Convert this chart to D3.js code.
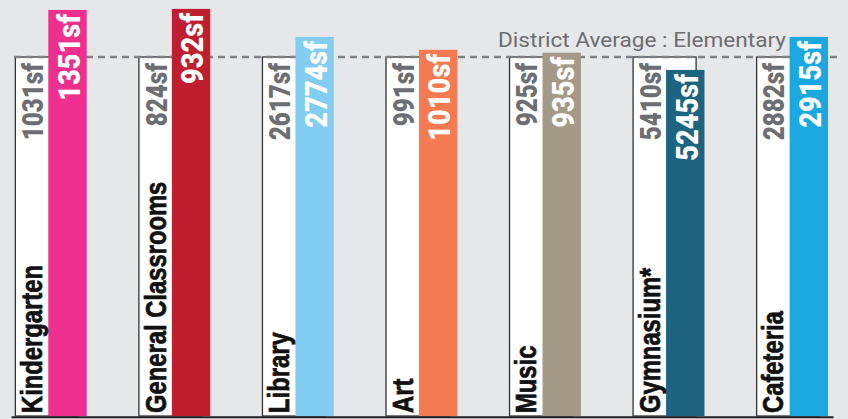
<!DOCTYPE html>
<html>
<head>
<meta charset="utf-8">
<script src="https://cdn.jsdelivr.net/npm/d3@7"></script>
<style>
  html, body { margin: 0; padding: 0; background: #e6e7e8; }
  svg { display: block; }
</style>
</head>
<body>
<script>
// ---- data ----
const categories = ["Kindergarten", "General Classrooms", "Library", "Art", "Music", "Gymnasium*", "Cafeteria"];
const districtSf = [1031, 824, 2617, 991, 925, 5410, 2882];
const schoolSf = [1351, 932, 2774, 1010, 935, 5245, 2915];
// school bar height as % of district average, as drawn in the picture
const schoolIndexDrawn = [113.1, 113.4, 105.6, 102.0, 101.2, 96.4, 105.6];
const districtIndex = 100;
const schoolColors = ["#ed2f8d", "#be1e2d", "#83cdf2", "#f47a51", "#a39a87", "#1c6480", "#1ba8e0"];
const averageLabel = "District Average : Elementary";

// ---- layout ----
const W = 848, H = 419;
const svg = d3.select("body").append("svg").attr("width", W).attr("height", H);
svg.append("rect").attr("width", W).attr("height", H).attr("fill", "#e6e7e8");

const x = d3.scaleBand().domain(categories).range([14.7, 828]).paddingInner(0.4172).paddingOuter(0);
const bw = x.bandwidth();
const y = d3.scaleLinear().domain([0, 100]).range([416, 57]);

const whiteW = bw * 0.875;
const colOff = bw * 0.467;
const colW = bw - colOff;

const data = categories.map((c, i) => ({
  cat: c, dist: districtSf[i], school: schoolSf[i], idx: schoolIndexDrawn[i], color: schoolColors[i]
}));

// white district bars
svg.selectAll("rect.dist").data(data).join("rect")
  .attr("class", "dist")
  .attr("x", d => x(d.cat) + 0.65)
  .attr("y", y(districtIndex))
  .attr("width", whiteW)
  .attr("height", y(0) - y(districtIndex))
  .attr("fill", "#ffffff")
  .attr("stroke", "#333333")
  .attr("stroke-width", 1.3);

// dashed average line
svg.append("line")
  .attr("x1", 14).attr("x2", 837)
  .attr("y1", y(districtIndex)).attr("y2", y(districtIndex))
  .attr("stroke", "#808285").attr("stroke-width", 2.6)
  .attr("stroke-dasharray", "7,5");

svg.append("text")
  .attr("x", 498).attr("y", 47)
  .attr("font-family", "Roboto, 'Open Sans', sans-serif")
  .attr("font-size", 21)
  .attr("fill", "#6d6e71")
  .attr("textLength", 288)
  .attr("lengthAdjust", "spacingAndGlyphs")
  .text(averageLabel);

// school bars
svg.selectAll("rect.school").data(data).join("rect")
  .attr("class", "school")
  .attr("x", d => x(d.cat) + colOff)
  .attr("y", d => y(d.idx))
  .attr("width", colW)
  .attr("height", d => y(0) - y(d.idx))
  .attr("fill", d => d.color);

function condense(sel, factor) {
  sel.each(function () {
    const len = this.getComputedTextLength();
    d3.select(this).attr("textLength", len * factor).attr("lengthAdjust", "spacingAndGlyphs");
  });
}

// category labels
svg.selectAll("text.cat").data(data).join("text")
  .attr("class", "cat")
  .attr("transform", d => `translate(${x(d.cat) + 27.5},413) rotate(-90)`)
  .attr("font-family", "'Liberation Sans', Arial, sans-serif")
  .attr("font-weight", "bold")
  .attr("font-size", 29)
  .attr("fill", "#111111")
  .attr("stroke", "#111111")
  .attr("stroke-width", 0.7)
  .text(d => d.cat)
  .call(condense, 0.82);

// district value labels
svg.selectAll("text.dv").data(data).join("text")
  .attr("class", "dv")
  .attr("transform", d => `translate(${x(d.cat) + 28.5},${y(districtIndex) + 6}) rotate(-90)`)
  .attr("text-anchor", "end")
  .attr("font-family", "Roboto, sans-serif")
  .attr("font-weight", 900)
  .attr("font-size", 29.5)
  .attr("fill", "#6d6e71")
  .text(d => d.dist + "sf")
  .call(condense, 0.82);

// school value labels
svg.selectAll("text.sv").data(data).join("text")
  .attr("class", "sv")
  .attr("transform", d => `translate(${x(d.cat) + colOff + 31.5},${y(d.idx) + 4}) rotate(-90)`)
  .attr("text-anchor", "end")
  .attr("font-family", "Roboto, sans-serif")
  .attr("font-weight", 900)
  .attr("font-size", 32)
  .attr("fill", "#ffffff")
  .text(d => d.school + "sf")
  .call(condense, 0.85);

// baseline axis
const axis = d3.axisBottom(d3.scaleLinear().range([11, 833])).tickValues([]).tickSizeOuter(0);
svg.append("g").attr("transform", "translate(0,416.7)").call(axis)
  .select(".domain").attr("stroke", "#231f20").attr("stroke-width", 2);
</script>
</body>
</html>
